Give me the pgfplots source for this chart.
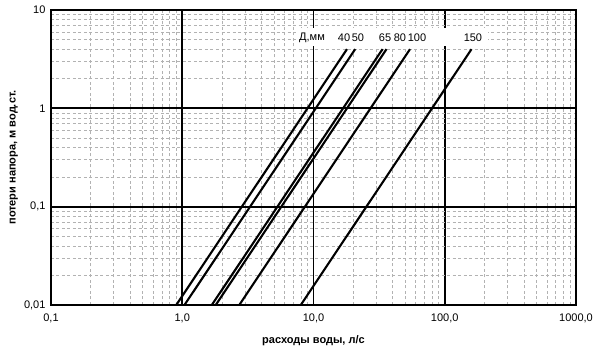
\documentclass[border=0pt]{standalone}
\usepackage{pgfplots}
\pgfplotsset{compat=1.18}
\usepackage{fontspec}
\setmainfont{Liberation Sans}
\begin{document}
\begin{tikzpicture}[x=1pt,y=1pt]
\useasboundingbox (0,0) rectangle (605,352);
\begin{axis}[
  at={(51pt,47pt)}, anchor=south west,
  scale only axis, width=525pt, height=295pt,
  xmode=log, ymode=log,
  xmin=0.1, xmax=1000, ymin=0.01, ymax=10,
  xtick={0.1,1,10,100,1000},
  xticklabels={{0,1},{1,0},{10,0},{100,0},{1000,0}},
  ytick={0.01,0.1,1,10},
  yticklabels={{0,01},{0,1},{1},{10}},
  minor xtick={0.2,0.3,0.4,0.5,0.6,0.7,0.8,0.9,2,3,4,5,6,7,8,9,20,30,40,50,60,70,80,90,200,300,400,500,600,700,800,900},
  minor ytick={0.02,0.03,0.04,0.05,0.06,0.07,0.08,0.09,0.2,0.3,0.4,0.5,0.6,0.7,0.8,0.9,2,3,4,5,6,7,8,9},
  font=\fontsize{11}{13}\selectfont,
  major tick length=0pt, minor tick length=0pt,
  grid=both,
  major grid style={black, line width=1.8pt},
  minor grid style={gray!60, line width=0.5pt, dash pattern=on 3pt off 2.5pt},
  axis line style={black, line width=1.8pt},
  xticklabel style={yshift=-5pt},
  yticklabel style={xshift=-2pt},
  xlabel={\bfseries расходы воды, л/с},
  ylabel={\bfseries потери напора, м вод.ст.},
  xlabel style={at={(axis description cs:0.5,-0.122)}, anchor=center},
  ylabel style={at={(axis description cs:-0.071,0.5)}, anchor=center},
  clip=false,
]
\fill[white] (axis cs:7.4,4.3) rectangle (axis cs:215,6.5);
\addplot[black, line width=2.1pt] coordinates {(0.90,0.01) (18.0,4)};
\addplot[black, line width=2.1pt] coordinates {(1.04,0.01) (20.8,4)};
\addplot[black, line width=2.1pt] coordinates {(1.68,0.01) (33.6,4)};
\addplot[black, line width=2.1pt] coordinates {(1.80,0.01) (36.0,4)};
\addplot[black, line width=2.1pt] coordinates {(2.72,0.01) (54.4,4)};
\addplot[black, line width=2.1pt] coordinates {(8.0,0.01) (160,4)};
\node at (axis cs:9.75,5.2) {Д,мм};
\node at (axis cs:17.1,5.2) {40};
\node at (axis cs:21.8,5.2) {50};
\node at (axis cs:35.1,5.2) {65};
\node at (axis cs:45.6,5.2) {80};
\node at (axis cs:61.5,5.2) {100};
\node at (axis cs:164,5.2) {150};
\end{axis}
\end{tikzpicture}
\end{document}
